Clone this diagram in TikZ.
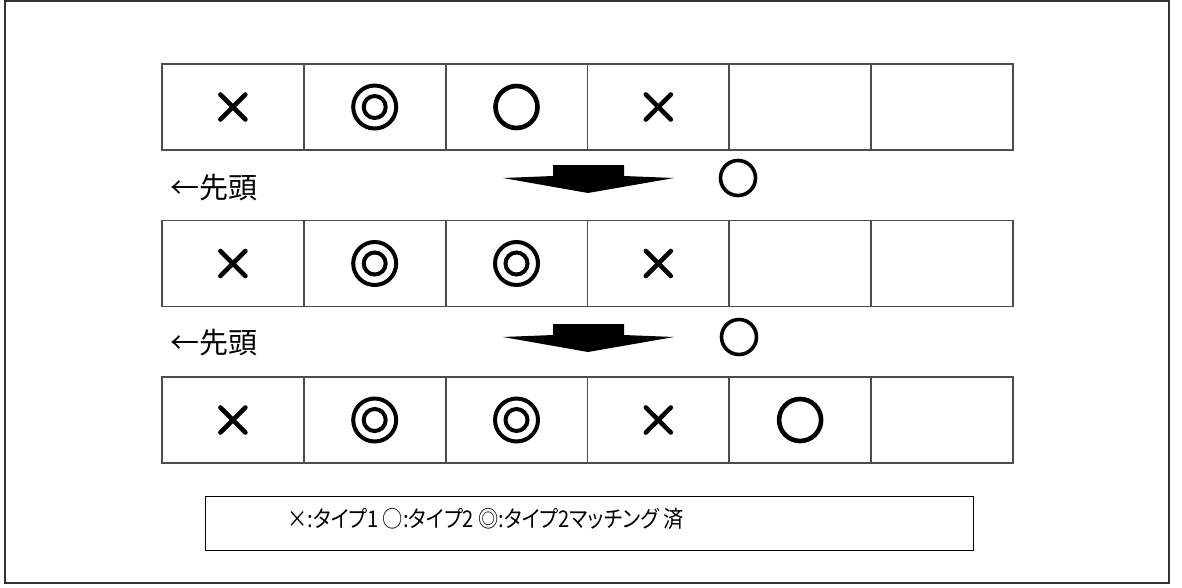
\documentclass[tikz,border=0pt]{standalone}
\usepackage{fontspec}
\newfontfamily\jpfont{Noto Sans CJK JP}
\newfontfamily\jpfontp[RawFeature=+palt,FakeStretch=0.88]{Noto Sans CJK JP}
\usetikzlibrary{positioning}

\tikzset{
  cell/.style={draw=black!70,line width=1.8pt,minimum width=141.8pt,minimum height=86pt,
    inner sep=0pt,outer sep=0pt,anchor=north west},
  newmaru/.style={draw,circle,line width=3.6pt,minimum size=35pt,inner sep=0pt},
  batsu/.pic={\draw[line width=4.6pt,line cap=round] (-12.5,-12.5) -- (12.5,12.5) (-12.5,12.5) -- (12.5,-12.5);},
  nijyu/.pic={\draw[line width=4pt] (0,0) circle (21.5pt) (0,0) circle (11pt);},
  maru/.pic={\draw[line width=4.6pt] (0,0) circle (21pt);}
}

\begin{document}
\begin{tikzpicture}[x=1pt,y=-1pt]
  \useasboundingbox (0,0) rectangle (1182,587);
  \draw[black!80,line width=2pt] (5,1) rectangle (1169,583);

  % the three rows of cells
  \foreach \r/\top in {1/64,2/220.5,3/377}
    \foreach \c in {1,...,6}
      \node[cell] (c\r\c) at ({162+141.8*(\c-1)},\top) {};

  \foreach \r/\c/\m in {1/1/batsu,1/2/nijyu,1/3/maru,1/4/batsu,
                        2/1/batsu,2/2/nijyu,2/3/nijyu,2/4/batsu,
                        3/1/batsu,3/2/nijyu,3/3/nijyu,3/4/batsu,3/5/maru}
    \pic at (c\r\c) {\m};

  % arrows between rows
  \foreach \a/\dy in {1/0,2/159}{
    \fill ([yshift=-\dy pt]553,165) -- ++(71,0) -- ++(0,11) -- ++(50,2) -- ++(-86,15)
      -- ++(-85,-15) -- ++(50,-2) -- cycle;
  }
  \node[newmaru] (new1) at (738,178) {};
  \node[newmaru] (new2) at (739,337) {};

  \node[font=\jpfont\fontsize{29}{29}\selectfont,anchor=west,inner sep=0pt] (head1) at (170,188) {←先頭};
  \node[font=\jpfont\fontsize{29}{29}\selectfont,anchor=west,inner sep=0pt] (head2) at (170,343) {←先頭};

  % legend
  \node[draw,line width=1.3pt,minimum width=768pt,minimum height=54pt,anchor=north west] (legend) at (205,496) {};
  \node[font=\jpfontp\fontsize{23}{23}\selectfont,anchor=west,inner sep=0pt] (legtext) at (287,519)
    {×:タイプ1 ○:タイプ2 ◎:タイプ2マッチング 済};
\end{tikzpicture}
\end{document}
